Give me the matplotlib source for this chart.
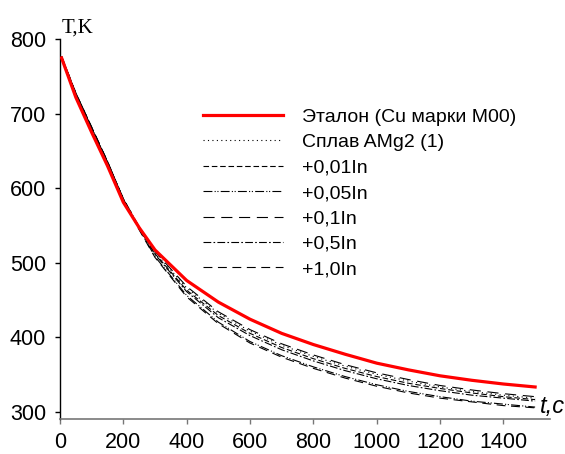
import matplotlib
matplotlib.use("Agg")
import matplotlib.pyplot as plt
from matplotlib import font_manager as fm

# Time points, s
t = [5, 50, 100, 150, 200, 250, 300, 400, 500, 600, 700, 800, 900, 1000,
     1100, 1200, 1300, 1400, 1500]

# Cooling curves, K
etalon = [775, 722, 675, 630, 581, 547, 517, 476, 447, 424, 405, 390, 377,
          365, 356, 348, 342, 337, 333]
amg2 = [776, 726, 680, 634, 586, 548, 514, 466, 432, 408, 389, 374, 361,
        350, 341, 333, 327, 322, 318]
in001 = [776, 727, 681, 635, 586, 547, 512, 463, 429, 405, 386, 371, 358,
         347, 338, 331, 325, 320, 316]
in005 = [777, 728, 682, 636, 585, 545, 508, 456, 420, 394, 375, 360, 347,
         336, 327, 320, 314, 310, 306]
in01 = [776, 726, 680, 634, 586, 548, 515, 468, 434, 410, 391, 376, 363,
        352, 343, 335, 329, 324, 320]
in05 = [776, 727, 681, 635, 585, 546, 511, 461, 426, 402, 383, 368, 355,
        344, 335, 328, 322, 318, 314]
in10 = [777, 728, 682, 636, 585, 544, 507, 454, 418, 392, 373, 358, 345,
        334, 325, 318, 313, 308, 305]

labels = ["Эталон (Cu марки М00)", "Сплав AMg2 (1)", "+0,01In", "+0,05In",
          "+0,1In", "+0,5In", "+1,0In"]
xticks = [0, 200, 400, 600, 800, 1000, 1200, 1400]
yticks = [300, 400, 500, 600, 700, 800]

# Prefer a narrow sans face when one is available
installed = {f.name for f in fm.fontManager.ttflist}
if "Liberation Sans Narrow" in installed:
    sans, tick_size, leg_size, unit_size = "Liberation Sans Narrow", 20, 16, 19
else:
    sans, tick_size, leg_size, unit_size = "Liberation Sans", 15.5, 14, 17
family = [sans, "DejaVu Sans"]

fig = plt.figure(figsize=(5.65, 4.54), dpi=100)
ax = fig.add_axes([60 / 565, 35 / 454, 490 / 565, 379.7 / 454])

ax.plot(t, etalon, color="#ff0000", lw=2.3, label=labels[0], zorder=5)
ax.plot(t, amg2, color="black", lw=0.8, linestyle=(0, (1, 3)), label=labels[1])
ax.plot(t, in001, color="black", lw=0.8, linestyle=(0, (5, 2.5)), label=labels[2])
ax.plot(t, in005, color="black", lw=0.8, linestyle=(0, (8, 2, 1, 1.5, 1, 2)), label=labels[3])
ax.plot(t, in01, color="black", lw=0.8, linestyle=(0, (10, 6)), label=labels[4])
ax.plot(t, in05, color="black", lw=0.8, linestyle=(0, (7, 2, 1.5, 2)), label=labels[5])
ax.plot(t, in10, color="black", lw=0.8, linestyle=(0, (8, 5)), label=labels[6])

ax.set_xlim(0, 1547)
ax.set_ylim(290, 800)
ax.set_xticks(xticks)
ax.set_yticks(yticks)
ax.set_xticklabels([str(v) for v in xticks], family=family, fontsize=tick_size)
ax.set_yticklabels([str(v) for v in yticks], family=family, fontsize=tick_size)
ax.tick_params(axis="both", direction="out", length=3.6, width=1)
ax.tick_params(axis="x", colors="#777777", labelcolor="black", pad=5.5)
ax.tick_params(axis="y", pad=6.5)

for side in ("top", "right"):
    ax.spines[side].set_visible(False)
ax.spines["left"].set_color("black")
ax.spines["bottom"].set_color("#777777")
ax.spines["left"].set_linewidth(1)
ax.spines["bottom"].set_linewidth(1.2)

fig.text(62 / 565, 1 - 33 / 454, "T,K", family=["Liberation Serif", "DejaVu Serif"],
         fontsize=15, ha="left", va="baseline")
fig.text(540 / 565, 1 - 413 / 454, "t,c", family=family, style="italic",
         fontsize=unit_size, ha="left", va="baseline")

leg = ax.legend(loc="upper left", bbox_to_anchor=(143 / 490, 1 - 69 / 379.7),
                frameon=False, prop={"family": family, "size": leg_size},
                handlelength=4.1, handletextpad=1.0, labelspacing=0.4,
                borderpad=0, borderaxespad=0)

fig.savefig("out.png", dpi=100)
